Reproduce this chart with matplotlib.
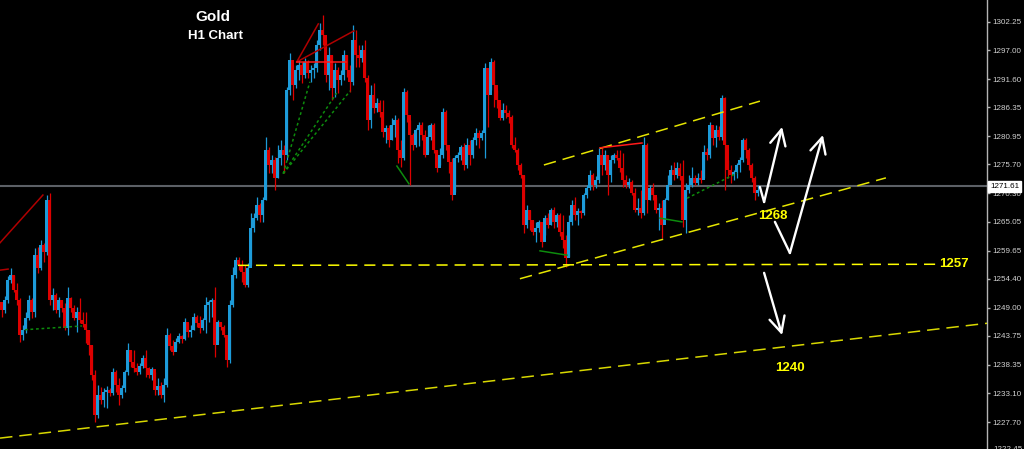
import numpy as np
import matplotlib
matplotlib.use('Agg')
import matplotlib.pyplot as plt
import matplotlib.transforms as mtransforms

plt.rcParams['lines.scale_dashes'] = False

# Gold H1 candles (price), one per bar
first_open = 1250.0
closes = [
    1248.6, 1250.4, 1254.2, 1255.1, 1252.3, 1250.4, 1243.9, 1244.8, 1247.1, 1250.4,
    1248.2, 1258.8, 1256.4, 1260.7, 1259.4, 1269.1, 1250.4, 1251.4, 1248.6, 1250.4,
    1248.9, 1245.2, 1250.8, 1248.9, 1247.1, 1248.2, 1246.7, 1245.9, 1244.8, 1242.0,
    1236.5, 1229.0, 1232.7, 1231.8, 1233.3, 1233.7, 1233.1, 1237.0, 1234.6, 1232.7,
    1234.0, 1237.0, 1241.1, 1238.9, 1237.8, 1237.0, 1238.1, 1239.6, 1237.8, 1236.5,
    1237.6, 1233.7, 1234.4, 1232.7, 1234.6, 1243.9, 1241.9, 1240.7, 1242.6, 1243.7,
    1243.2, 1246.3, 1244.5, 1244.8, 1247.3, 1246.1, 1245.2, 1246.7, 1249.5, 1250.1,
    1250.4, 1242.0, 1246.3, 1245.4, 1243.9, 1239.3, 1249.5, 1255.1, 1257.9, 1257.0,
    1255.7, 1253.2, 1256.4, 1263.9, 1265.7, 1268.1, 1266.3, 1269.1, 1278.4, 1275.6,
    1276.5, 1273.2, 1276.9, 1278.4, 1277.5, 1289.6, 1295.2, 1290.5, 1293.3, 1294.2,
    1292.4, 1294.8, 1292.7, 1293.3, 1293.7, 1298.0, 1300.8, 1299.8, 1292.4, 1296.1,
    1290.0, 1293.3, 1291.4, 1292.4, 1296.1, 1293.3, 1291.1, 1298.9, 1296.1, 1295.5,
    1297.0, 1291.8, 1284.0, 1288.6, 1286.2, 1287.2, 1285.5, 1281.7, 1282.5, 1280.3,
    1283.1, 1284.0, 1278.4, 1276.9, 1289.2, 1284.9, 1281.2, 1279.3, 1282.1, 1283.1,
    1281.2, 1277.5, 1280.8, 1283.1, 1278.4, 1275.0, 1277.5, 1285.5, 1279.3, 1276.2,
    1270.0, 1276.9, 1277.5, 1279.0, 1275.6, 1279.3, 1277.5, 1280.3, 1281.6, 1280.6,
    1281.6, 1293.7, 1288.6, 1294.8, 1290.5, 1287.7, 1284.4, 1285.9, 1285.3, 1284.6,
    1279.3, 1278.4, 1275.6, 1273.7, 1264.4, 1267.2, 1265.4, 1263.1, 1263.9, 1265.0,
    1261.2, 1265.7, 1264.4, 1267.2, 1265.0, 1266.3, 1263.1, 1261.6, 1258.3, 1265.0,
    1268.1, 1266.3, 1267.0, 1266.7, 1270.0, 1271.3, 1273.7, 1271.9, 1272.8, 1277.5,
    1275.6, 1277.5, 1273.7, 1276.5, 1277.5, 1276.9, 1275.0, 1272.8, 1271.9, 1272.4,
    1270.4, 1267.2, 1267.6, 1266.7, 1279.3, 1269.1, 1271.3, 1270.0, 1267.2, 1267.6,
    1264.4, 1269.1, 1271.9, 1274.7, 1273.7, 1275.0, 1273.5, 1265.4, 1270.9, 1271.9,
    1273.2, 1272.2, 1273.2, 1272.8, 1278.0, 1277.5, 1283.1, 1280.6, 1282.1, 1280.8,
    1288.1, 1279.3, 1274.7, 1273.7, 1274.3, 1275.6, 1276.5, 1280.3, 1278.4, 1275.6,
    1273.2, 1270.4, 1270.9,
]
highs = [
    1250.1, 1251.2, 1254.9, 1256.4, 1255.1, 1253.6, 1250.8, 1245.8, 1248.2, 1251.4,
    1250.8, 1260.1, 1260.3, 1261.6, 1261.1, 1270.0, 1270.4, 1252.7, 1251.7, 1251.0,
    1250.4, 1249.9, 1252.9, 1251.0, 1249.5, 1249.1, 1250.8, 1248.2, 1248.2, 1244.8,
    1242.0, 1237.4, 1234.6, 1234.2, 1234.0, 1234.4, 1234.0, 1237.8, 1237.4, 1235.9,
    1234.6, 1237.4, 1242.4, 1241.1, 1241.1, 1238.7, 1238.7, 1240.2, 1241.1, 1237.9,
    1237.9, 1237.0, 1235.9, 1235.2, 1235.9, 1245.2, 1244.3, 1243.0, 1243.4, 1244.3,
    1243.9, 1247.1, 1246.1, 1245.8, 1248.0, 1247.6, 1247.5, 1247.1, 1251.0, 1250.4,
    1250.8, 1252.9, 1246.7, 1246.3, 1245.8, 1243.9, 1250.4, 1256.6, 1258.5, 1258.5,
    1257.9, 1257.0, 1257.3, 1266.7, 1266.7, 1269.6, 1268.5, 1269.6, 1280.8, 1279.0,
    1277.5, 1277.1, 1279.3, 1280.3, 1279.3, 1290.1, 1296.5, 1294.2, 1294.2, 1295.2,
    1294.8, 1295.5, 1295.2, 1294.2, 1294.6, 1298.9, 1302.1, 1303.6, 1298.9, 1297.6,
    1296.1, 1294.6, 1293.9, 1293.3, 1297.0, 1296.1, 1294.2, 1301.7, 1300.8, 1298.0,
    1298.0, 1298.9, 1292.4, 1290.5, 1290.9, 1288.1, 1287.7, 1287.7, 1283.1, 1283.1,
    1284.4, 1284.9, 1284.4, 1280.3, 1289.9, 1289.6, 1284.0, 1281.6, 1282.5, 1283.6,
    1283.6, 1282.1, 1283.1, 1283.4, 1283.4, 1278.4, 1278.8, 1286.2, 1285.9, 1277.5,
    1276.9, 1277.5, 1278.0, 1279.3, 1279.7, 1280.6, 1280.3, 1280.8, 1282.5, 1282.1,
    1282.1, 1294.6, 1293.3, 1295.5, 1295.2, 1289.6, 1287.2, 1287.2, 1286.8, 1285.9,
    1284.9, 1280.8, 1278.8, 1276.0, 1273.7, 1268.1, 1267.2, 1265.4, 1265.0, 1265.4,
    1263.5, 1266.3, 1266.7, 1267.6, 1267.8, 1266.7, 1266.7, 1266.3, 1262.6, 1266.3,
    1269.1, 1269.6, 1267.6, 1267.2, 1270.4, 1271.9, 1274.7, 1274.1, 1273.5, 1278.8,
    1278.8, 1278.4, 1277.5, 1277.5, 1277.8, 1278.4, 1278.4, 1277.8, 1273.7, 1273.2,
    1272.8, 1271.3, 1269.4, 1270.9, 1280.8, 1279.7, 1271.9, 1272.2, 1269.6, 1268.5,
    1269.1, 1269.4, 1273.7, 1275.6, 1276.2, 1276.2, 1276.0, 1276.5, 1272.2, 1273.7,
    1275.2, 1273.7, 1274.1, 1274.7, 1279.3, 1278.8, 1283.6, 1283.1, 1283.1, 1282.9,
    1288.6, 1288.3, 1276.5, 1275.6, 1274.7, 1276.0, 1277.1, 1280.6, 1280.6, 1278.8,
    1276.0, 1273.5, 1271.9,
]
lows = [
    1247.3, 1248.0, 1249.9, 1253.6, 1251.9, 1249.5, 1242.6, 1243.0, 1244.3, 1246.7,
    1247.1, 1247.3, 1255.5, 1256.0, 1257.5, 1258.8, 1249.5, 1248.6, 1248.0, 1247.3,
    1248.2, 1244.8, 1243.9, 1248.2, 1246.7, 1244.5, 1246.1, 1245.4, 1242.4, 1240.2,
    1235.5, 1227.7, 1228.4, 1231.1, 1230.5, 1230.3, 1232.5, 1232.7, 1233.3, 1230.9,
    1232.2, 1233.3, 1236.5, 1237.9, 1237.0, 1236.5, 1236.6, 1237.8, 1236.1, 1235.9,
    1235.5, 1232.7, 1232.7, 1232.2, 1231.4, 1234.2, 1241.1, 1240.2, 1241.5, 1242.4,
    1242.4, 1243.0, 1243.5, 1243.5, 1244.8, 1245.4, 1244.3, 1244.8, 1244.3, 1246.3,
    1247.3, 1239.8, 1243.0, 1244.8, 1243.5, 1237.9, 1238.7, 1249.1, 1254.5, 1256.0,
    1253.8, 1252.9, 1252.9, 1257.0, 1263.1, 1265.3, 1265.0, 1265.0, 1269.1, 1274.1,
    1274.1, 1270.9, 1273.2, 1275.6, 1274.1, 1276.5, 1288.6, 1287.7, 1289.9, 1291.4,
    1290.9, 1291.8, 1291.8, 1291.1, 1291.8, 1292.9, 1297.0, 1298.0, 1291.1, 1289.6,
    1287.7, 1288.3, 1289.0, 1290.5, 1291.4, 1292.0, 1289.2, 1290.5, 1293.9, 1293.9,
    1294.8, 1291.1, 1282.1, 1282.5, 1285.3, 1285.5, 1284.6, 1280.8, 1279.7, 1279.0,
    1280.3, 1280.8, 1276.0, 1275.2, 1276.5, 1283.6, 1271.9, 1278.4, 1279.0, 1279.1,
    1280.3, 1277.1, 1278.0, 1280.3, 1277.8, 1274.3, 1275.6, 1276.9, 1278.4, 1274.1,
    1269.1, 1270.6, 1276.2, 1276.5, 1274.7, 1275.0, 1275.6, 1276.9, 1279.3, 1278.8,
    1280.3, 1276.9, 1282.7, 1289.6, 1286.4, 1286.2, 1284.0, 1284.0, 1284.4, 1283.4,
    1278.8, 1278.0, 1274.7, 1273.2, 1262.9, 1263.9, 1263.5, 1262.6, 1261.2, 1263.1,
    1260.3, 1262.6, 1263.9, 1264.4, 1263.9, 1264.1, 1262.4, 1260.1, 1256.6, 1258.5,
    1264.4, 1265.3, 1264.4, 1265.7, 1266.3, 1269.4, 1270.9, 1270.9, 1271.3, 1272.2,
    1273.7, 1274.7, 1270.0, 1272.4, 1276.0, 1276.5, 1274.3, 1271.5, 1271.3, 1271.3,
    1270.0, 1266.8, 1266.3, 1265.7, 1266.3, 1266.7, 1269.1, 1269.1, 1266.7, 1263.5,
    1262.0, 1265.7, 1269.1, 1272.2, 1272.8, 1273.2, 1272.8, 1264.1, 1262.9, 1270.4,
    1271.5, 1271.9, 1271.9, 1272.2, 1273.2, 1276.5, 1276.9, 1279.3, 1279.0, 1280.3,
    1280.3, 1270.9, 1273.2, 1272.2, 1272.8, 1273.2, 1274.3, 1276.2, 1276.9, 1274.7,
    1272.4, 1269.1, 1269.8,
]

price_ticks = [1302.25, 1297.00, 1291.60, 1286.35, 1280.95, 1275.70, 1270.30,
               1265.05, 1259.65, 1254.40, 1249.00, 1243.75, 1238.35, 1233.10, 1227.70]
last_price = 1271.61

# hand drawn objects, (bar index, price)
support_line = [(-0.5, 1224.7), (328.5, 1246.1)]
level_1257 = [(78.8, 1256.9), (312.2, 1257.1)]
channel_low = [(172.8, 1254.4), (294.8, 1273.2)]
channel_high = [(180.8, 1275.6), (252.8, 1287.5)]

red_lines = [
    [(-0.5, 1261.1), (13.8, 1270.0)],
    [(-0.5, 1256.0), (2.2, 1256.2)],
    [(98.4, 1294.8), (105.6, 1301.9)],
    [(98.4, 1294.8), (117.5, 1300.6)],
]
red_flat = [
    [(98.4, 1294.8), (114.7, 1294.8)],
    [(199.5, 1278.8), (213.5, 1279.7)],
]
green_dotted = [
    [(93.9, 1274.0), (102.8, 1291.1)],
    [(93.9, 1274.0), (111.7, 1289.0)],
    [(93.9, 1274.0), (116.2, 1289.4)],
    [(228.5, 1269.4), (245.2, 1274.1)],
    [(7.8, 1244.9), (26.8, 1245.6)],
]
green_solid = [
    [(131.8, 1275.4), (135.8, 1272.1)],
    [(179.5, 1259.6), (188.5, 1258.8)],
    [(219.5, 1265.7), (226.8, 1265.0)],
]

arrow_up_1 = [(252.8, 1271.5), (254.2, 1268.7), (260.2, 1282.7)]
arrow_up_2 = [(257.8, 1265.0), (262.8, 1259.2), (273.8, 1281.2)]
arrow_down = [(254.2, 1255.5), (260.2, 1243.9)]

labels = [('1268', 257.2, 1266.1, 'center'), ('1240', 262.8, 1237.8, 'center'),
          ('1257', 312.5, 1257.1, 'left')]

BLUE = '#1d9bd9'
RED = '#dd0000'
YELLOW = '#e6e600'
AXIS_FONT = 'Liberation Sans'

fig = plt.figure(figsize=(10.24, 4.49), dpi=100, facecolor='black')
ax = fig.add_axes([0, 0, 987 / 1024, 1])
ax.set_facecolor('black')
ax.set_xlim(-0.5, 328.5)
ax.set_ylim(1222.67, 1306.35)

# candles
closes_a = np.array(closes)
opens_a = np.array([first_open] + closes[:-1])
idx = np.arange(len(closes))
cols = [BLUE if c >= o else RED for o, c in zip(opens_a, closes_a)]
ax.vlines(idx, lows, highs, colors=cols, lw=0.9, zorder=3)
ax.bar(idx, closes_a - opens_a, bottom=opens_a, width=0.8, color=cols,
       linewidth=0, zorder=3)

# current price
ax.axhline(last_price, color='#5c6066', lw=1.5, zorder=2)

# trend lines
def seg(pts, **kw):
    xs, ys = zip(*pts)
    ax.plot(xs, ys, **kw)

seg(support_line, color='#d8d800', lw=1.1, dashes=(9, 5), zorder=4)
seg(level_1257, color='#ffff00', lw=1.1, dashes=(8, 5), zorder=4)
seg(channel_low, color=YELLOW, lw=1.1, dashes=(9, 5), zorder=4)
seg(channel_high, color=YELLOW, lw=1.1, dashes=(9, 5), zorder=4)

for pts in red_lines:
    seg(pts, color='#b00000', lw=1.1, zorder=4)
for pts in red_flat:
    seg(pts, color='#ff1a1a', lw=1.1, zorder=4)
for pts in green_dotted:
    seg(pts, color='#0d8c0d', lw=1.1, dashes=(2, 2), zorder=4)
for pts in green_solid:
    seg(pts, color='#0d8c0d', lw=1.1, zorder=4)

# white arrows
def arrow(pts):
    if len(pts) > 2:
        seg(pts[:-1], color='white', lw=1.7, solid_capstyle='round', zorder=5)
    ax.annotate('', xy=pts[-1], xytext=pts[-2],
                arrowprops=dict(arrowstyle='->,head_length=0.7,head_width=0.35',
                                color='white', lw=1.7, shrinkA=0, shrinkB=0,
                                mutation_scale=16), zorder=5)

arrow(arrow_up_1)
arrow(arrow_up_2)
arrow(arrow_down)

for txt, bx, py, ha in labels:
    ax.text(bx, py, txt, color='#ffff00', fontsize=9.5, fontweight='bold',
            family='Liberation Sans', ha=ha, va='center', zorder=6)

fig.text(213 / 1024, 1 - 17 / 449, 'Gold', color='white', fontsize=11,
         fontweight='bold', family='Liberation Sans', ha='center', va='center')
fig.text(216 / 1024, 1 - 36 / 449, 'H1 Chart', color='white', fontsize=9.5,
         fontweight='bold', family='Liberation Sans', ha='center', va='center')

# price axis on the right
for s in ['left', 'top', 'bottom']:
    ax.spines[s].set_visible(False)
ax.spines['right'].set_color('#b4b4b4')
ax.spines['right'].set_linewidth(1)
ax.set_xticks([])
ax.yaxis.tick_right()
ax.set_yticks(price_ticks)
ax.set_yticklabels([f'{p:.2f}' for p in price_ticks])
ax.tick_params(axis='y', colors='#b4b4b4', labelcolor='#d2d2d2', length=2.5,
               width=1, pad=1.5, labelsize=5.8)
for lab in ax.get_yticklabels():
    lab.set_family(AXIS_FONT)

trans = mtransforms.blended_transform_factory(ax.transAxes, ax.transData)
ax.text(1.003, last_price, f'{last_price:.2f}', transform=trans, color='black',
        fontsize=5.8, family=AXIS_FONT, ha='left', va='center', zorder=10,
        clip_on=False, bbox=dict(boxstyle='square,pad=0.2', fc='white', ec='white'))
ax.text(1.0065, 1222.6, '1222.45', transform=trans, color='#d2d2d2',
        fontsize=5.8, family=AXIS_FONT, ha='left', va='center', clip_on=False)

fig.savefig('out.png', dpi=100, facecolor='black')
